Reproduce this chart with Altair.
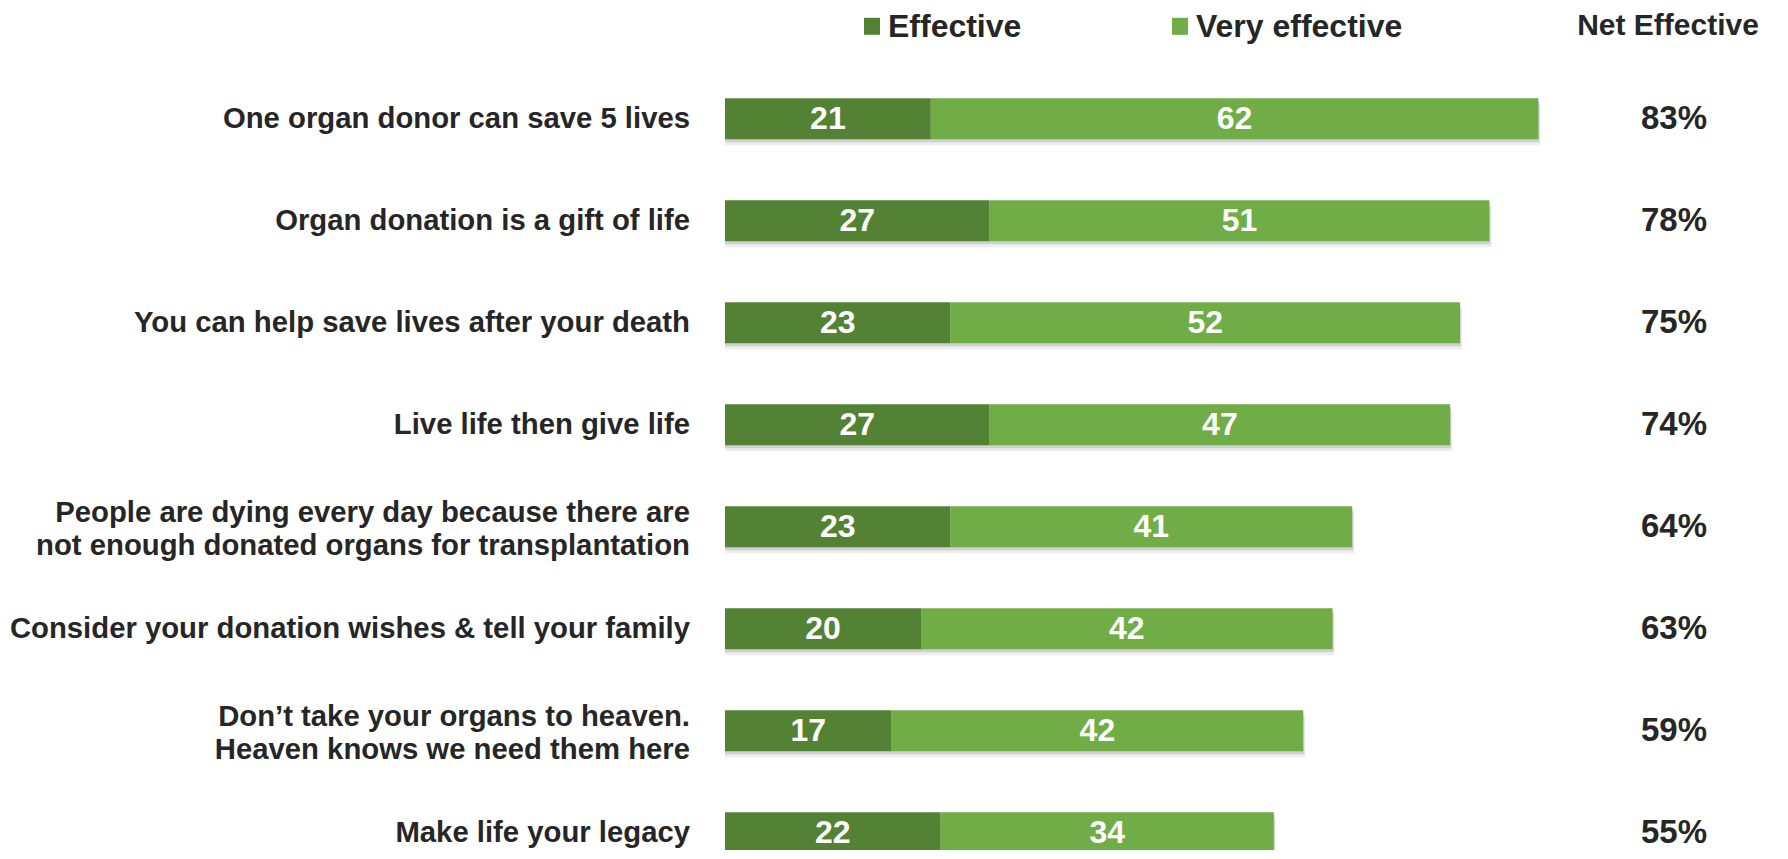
import altair as alt
import pandas as pd

categories = [
    "One organ donor can save 5 lives",
    "Organ donation is a gift of life",
    "You can help save lives after your death",
    "Live life then give life",
    "People are dying every day because there are\nnot enough donated organs for transplantation",
    "Consider your donation wishes & tell your family",
    "Don\u2019t take your organs to heaven.\nHeaven knows we need them here",
    "Make life your legacy",
]
effective = [21, 27, 23, 27, 23, 20, 17, 22]
very_effective = [62, 51, 52, 47, 41, 42, 42, 34]
net_effective = [83, 78, 75, 74, 64, 63, 59, 55]

legend_labels = ["Effective", "Very effective"]
legend_colors = ["#548235", "#70AD47"]
net_header = "Net Effective"

FONT = "Liberation Sans"
TXT = "#262626"

df = pd.DataFrame({
    "category": categories,
    "effective": effective,
    "very": very_effective,
    "net": net_effective,
})

x_scale = alt.Scale(domain=[0, 100], nice=False, zero=True)
y_enc = alt.Y("category:N", sort=categories, axis=None,
              scale=alt.Scale(range=[0, 816], paddingInner=0.598, paddingOuter=0.299))

base = alt.Chart(df).transform_calculate(
    total="datum.effective + datum.very",
    mid_eff="datum.effective / 2",
    mid_very="datum.effective + datum.very / 2",
    lines="split(datum.category, '\\n')",
    nlines="length(split(datum.category, '\\n'))",
    net_label="datum.net + '%'",
)

shadow1 = base.mark_bar(color="#000000", opacity=0.07, yOffset=6, xOffset=2).encode(
    x=alt.X("total:Q", scale=x_scale, axis=None, stack=None), y=y_enc)
shadow2 = base.mark_bar(color="#000000", opacity=0.12, yOffset=3, xOffset=1).encode(
    x=alt.X("total:Q", scale=x_scale, axis=None, stack=None), y=y_enc)

eff_bar = base.mark_bar(color=legend_colors[0]).encode(
    x=alt.X("effective:Q", scale=x_scale, axis=None, stack=None), y=y_enc)
very_bar = base.mark_bar(color=legend_colors[1]).encode(
    x=alt.X("effective:Q", scale=x_scale, axis=None, stack=None), x2="total:Q", y=y_enc)

eff_txt = base.mark_text(font=FONT, fontWeight="bold", fontSize=32, color="white",
                         align="center", baseline="middle").encode(
    x=alt.X("mid_eff:Q", scale=x_scale, axis=None), y=y_enc, text="effective:Q")
very_txt = base.mark_text(font=FONT, fontWeight="bold", fontSize=32, color="white",
                          align="center", baseline="middle").encode(
    x=alt.X("mid_very:Q", scale=x_scale, axis=None), y=y_enc, text="very:Q")

net_txt = base.mark_text(font=FONT, fontWeight="bold", fontSize=33, color=TXT,
                         align="center", baseline="middle").encode(
    x=alt.value(949), y=y_enc, text="net_label:N")

cat_txt1 = base.transform_filter("datum.nlines == 1").mark_text(
    font=FONT, fontWeight="bold", fontSize=29.3, color=TXT,
    align="right", baseline="middle").encode(
    x=alt.value(-35), y=y_enc, text="category:N")
cat_txt2 = base.transform_filter("datum.nlines > 1").mark_text(
    font=FONT, fontWeight="bold", fontSize=29.3, color=TXT,
    align="right", baseline="middle", lineHeight=33, dy=-14).encode(
    x=alt.value(-35), y=y_enc, text="lines:N")

# legend
leg_layers = []
leg_sq_x = [139, 447]
leg_txt_x = [163, 471]
for i, lab in enumerate(legend_labels):
    ldf = pd.DataFrame({"label": [lab]})
    sq = alt.Chart(ldf).mark_rect(color=legend_colors[i]).encode(
        x=alt.value(leg_sq_x[i]), x2=alt.value(leg_sq_x[i] + 16),
        y=alt.value(-50), y2=alt.value(-33))
    tx = alt.Chart(ldf).mark_text(font=FONT, fontWeight="bold", fontSize=32, color=TXT,
                                  align="left", baseline="middle").encode(
        x=alt.value(leg_txt_x[i]), y=alt.value(-41), text="label:N")
    leg_layers += [sq, tx]

hdr = alt.Chart(pd.DataFrame({"label": [net_header]})).mark_text(
    font=FONT, fontWeight="bold", fontSize=30, color=TXT,
    align="center", baseline="middle").encode(
    x=alt.value(943), y=alt.value(-41.5), text="label:N")

chart = alt.layer(
    shadow1, shadow2, eff_bar, very_bar, eff_txt, very_txt, net_txt, cat_txt1, cat_txt2,
    *leg_layers, hdr
).properties(
    width=980, height=782,
    autosize=alt.AutoSizeParams(type="none"),
    padding={"left": 717, "top": 59.8, "right": 75, "bottom": 0},
).configure_view(stroke=None)

chart.save("out.html", embed_options={"renderer": "svg", "actions": False})
